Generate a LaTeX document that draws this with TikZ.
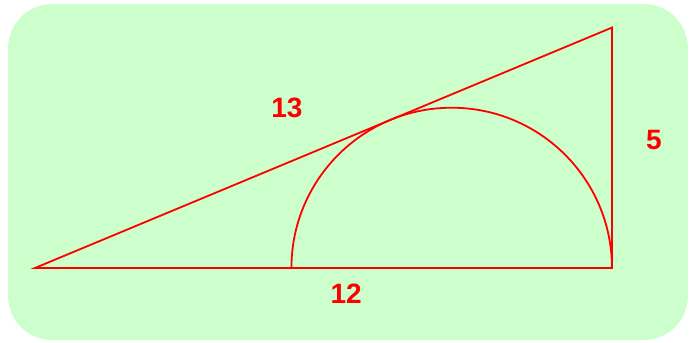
\documentclass[tikz,border=0pt]{standalone}
\usepackage{fontspec}
\setmainfont{Liberation Sans}
\usepackage{tikz}
\definecolor{panelgreen}{RGB}{204,255,204}
\tikzset{
  edge/.style={draw=red,line width=0.9pt},
  num/.style={text=red,font=\fontsize{14}{16}\selectfont\bfseries,inner sep=0pt},
  panel/.style={fill=panelgreen,draw=none,rounded corners=22pt},
}
\begin{document}
\begin{tikzpicture}[x=24.04pt,y=24.04pt]
  \useasboundingbox (-0.728,-1.56) rectangle (13.665,5.574);
  \fill[panel] (-0.56,-1.50) rectangle (13.58,5.49);
  % triangle corners
  \coordinate (A) at (0,0);
  \coordinate (B) at (12,0);
  \coordinate (C) at (12,5);
  \coordinate (D) at (12-20/3,0);
  \draw[edge] (A) -- (B) -- (C) -- cycle;
  % semicircle on the base, tangent to the hypotenuse
  \draw[edge] (D) arc[start angle=180,end angle=0,radius=10/3];
  \node[num] (l13) at (5.24,3.33) {13};
  \node[num] (l5) at (12.87,2.66) {5};
  \node[num] (l12) at (6.47,-0.54) {12};
\end{tikzpicture}
\end{document}
